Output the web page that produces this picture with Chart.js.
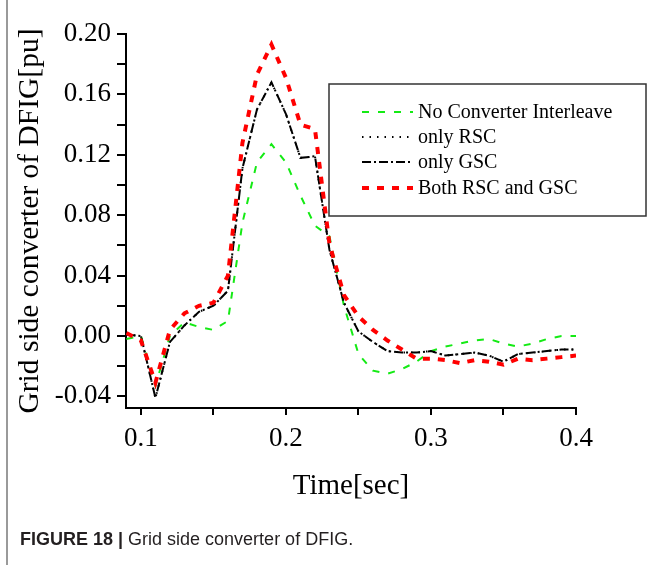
<!DOCTYPE html>
<html>
<head>
<meta charset="utf-8">
<title>Grid side converter of DFIG</title>
<script src="https://cdn.jsdelivr.net/npm/chart.js@4/dist/chart.umd.min.js"></script>
<style>
  html, body { margin: 0; padding: 0; background: #fff; }
  #wrap { position: relative; width: 650px; height: 565px; overflow: hidden; }
  #borda { position: absolute; left: 6px; top: 0; width: 1.5px; height: 565px; background: #9a9a9a; }
  #legenda-fig {
    position: absolute; left: 20px; top: 529px;
    font-family: "Liberation Sans", Arial, sans-serif; font-size: 18px; color: #231f20;
    white-space: nowrap;
  }
  #legenda-fig b { font-weight: bold; }
</style>
</head>
<body>
<div id="wrap">
  <canvas id="grafico" width="650" height="565"></canvas>
  <div id="borda"></div>
  <div id="legenda-fig"><b>FIGURE 18 |</b> Grid side converter of DFIG.</div>
</div>

<script>
// ---------------- DADOS ----------------
const tempos = [0.09, 0.10, 0.11, 0.12, 0.13, 0.14, 0.15, 0.16, 0.17, 0.18, 0.19, 0.20,
  0.21, 0.22, 0.23, 0.24, 0.25, 0.26, 0.27, 0.28, 0.29, 0.30,
  0.31, 0.32, 0.33, 0.34, 0.35, 0.36, 0.37, 0.38, 0.39, 0.40];

const semInterleave = [-0.002, 0.000, -0.033, 0.000, 0.009, 0.006, 0.004, 0.010, 0.075, 0.115, 0.127, 0.115,
  0.093, 0.073, 0.066, 0.020, -0.012, -0.023, -0.025, -0.022, -0.017, -0.010,
  -0.007, -0.005, -0.003, -0.002, -0.005, -0.007, -0.005, -0.002, 0.000, 0.000];

const soRSC = [0.001, 0.000, -0.041, -0.004, 0.007, 0.016, 0.020, 0.030, 0.111, 0.150, 0.168, 0.147,
  0.118, 0.119, 0.057, 0.022, 0.003, -0.004, -0.010, -0.011, -0.011, -0.010,
  -0.013, -0.012, -0.011, -0.013, -0.017, -0.012, -0.011, -0.010, -0.009, -0.009];

const soGSC = [0.001, 0.000, -0.041, -0.004, 0.007, 0.016, 0.020, 0.030, 0.111, 0.150, 0.168, 0.147,
  0.118, 0.119, 0.057, 0.022, 0.003, -0.004, -0.010, -0.011, -0.011, -0.010,
  -0.013, -0.012, -0.011, -0.013, -0.017, -0.012, -0.011, -0.010, -0.009, -0.009];

const ambos = [0.002, -0.003, -0.031, 0.004, 0.015, 0.020, 0.022, 0.040, 0.128, 0.173, 0.193, 0.171,
  0.140, 0.137, 0.061, 0.027, 0.013, 0.004, -0.003, -0.009, -0.015, -0.015,
  -0.016, -0.018, -0.016, -0.017, -0.019, -0.015, -0.016, -0.015, -0.014, -0.013];

const nomesSeries = ["No Converter Interleave", "only RSC", "only GSC", "Both RSC and GSC"];

const ticksX = [0.1, 0.15, 0.2, 0.25, 0.3, 0.35, 0.4];
const labelsX = [0.1, 0.2, 0.3, 0.4];
const ticksY = [-0.04, -0.02, 0.00, 0.02, 0.04, 0.06, 0.08, 0.10, 0.12, 0.14, 0.16, 0.18, 0.20];
const labelsY = [-0.04, 0.00, 0.04, 0.08, 0.12, 0.16, 0.20];

const pares = (vals) => tempos.map((t, i) => ({ x: t, y: vals[i] }));
const temLabel = (lista, v) => lista.some(l => Math.abs(l - v) < 1e-9);

const fonteSerif = "'Liberation Serif', 'Times New Roman', serif";

// ---------------- LEGENDA DENTRO DO GRAFICO ----------------
const legendaCaixa = {
  id: "legendaCaixa",
  afterDatasetsDraw(chart) {
    const c = chart.ctx;
    c.save();
    c.fillStyle = "#fff";
    c.fillRect(329, 84, 317, 132);
    c.strokeStyle = "#333";
    c.lineWidth = 1.5;
    c.strokeRect(329, 84, 317, 132);

    const linhasY = [112, 137, 162, 188];
    chart.data.datasets.forEach((ds, i) => {
      const y = linhasY[i];
      c.beginPath();
      c.setLineDash(ds.borderDash || []);
      c.lineWidth = ds.borderWidth;
      c.strokeStyle = ds.borderColor;
      c.moveTo(362, y);
      c.lineTo(413, y);
      c.stroke();
      c.setLineDash([]);
      c.fillStyle = "#000";
      c.font = "20px " + fonteSerif;
      c.textBaseline = "middle";
      c.textAlign = "left";
      c.fillText(ds.label, 418, y + 1);
    });
    c.restore();
  }
};

// ---------------- GRAFICO ----------------
const ctx = document.getElementById("grafico");

new Chart(ctx, {
  type: "line",
  data: {
    datasets: [
      {
        label: nomesSeries[0],
        data: pares(semInterleave),
        borderColor: "#14ea14",
        borderWidth: 2,
        borderDash: [7, 9],
        order: 3
      },
      {
        label: nomesSeries[1],
        data: pares(soRSC),
        borderColor: "#000",
        borderWidth: 2,
        borderDash: [1.5, 6],
        order: 2
      },
      {
        label: nomesSeries[2],
        data: pares(soGSC),
        borderColor: "#000",
        borderWidth: 2,
        borderDash: [9, 3, 2, 3],
        order: 1
      },
      {
        label: nomesSeries[3],
        data: pares(ambos),
        borderColor: "#ff0000",
        borderWidth: 4,
        borderDash: [7, 8],
        order: 0
      }
    ]
  },
  options: {
    responsive: false,
    devicePixelRatio: 1,
    animation: false,
    layout: { padding: { top: 34, right: 74, bottom: 0, left: 0 } },
    elements: {
      point: { radius: 0 },
      line: { tension: 0, fill: false, borderCapStyle: "butt" }
    },
    plugins: {
      legend: { display: false },
      tooltip: { enabled: false }
    },
    scales: {
      x: {
        type: "linear",
        min: 0.0897,
        max: 0.4,
        afterBuildTicks: (eixo) => { eixo.ticks = ticksX.map(v => ({ value: v })); },
        afterFit: (eixo) => { eixo.height = 157; },
        border: { display: true, color: "#000", width: 2 },
        grid: { drawOnChartArea: false, drawTicks: true, tickLength: 7, color: "#000", lineWidth: 2 },
        ticks: {
          padding: 8,
          color: "#000",
          maxRotation: 0,
          autoSkip: false,
          font: { family: fonteSerif, size: 27 },
          callback: (v) => temLabel(labelsX, v) ? v.toFixed(1) : ""
        },
        title: {
          display: true,
          text: "Time[sec]",
          color: "#000",
          font: { family: fonteSerif, size: 29 },
          padding: { top: 0, bottom: 61 }
        }
      },
      y: {
        type: "linear",
        min: -0.0477,
        max: 0.2,
        afterBuildTicks: (eixo) => { eixo.ticks = ticksY.map(v => ({ value: v })); },
        afterFit: (eixo) => { eixo.width = 126; },
        border: { display: true, color: "#000", width: 2 },
        grid: { drawOnChartArea: false, drawTicks: true, tickLength: 9, color: "#000", lineWidth: 2 },
        ticks: {
          padding: 6,
          color: "#000",
          autoSkip: false,
          font: { family: fonteSerif, size: 27 },
          callback: (v) => temLabel(labelsY, v) ? v.toFixed(2) : ""
        },
        title: {
          display: true,
          text: "Grid side converter of DFIG[pu]",
          color: "#000",
          font: { family: fonteSerif, size: 29.5 },
          padding: { top: 13, bottom: 0 }
        }
      }
    }
  },
  plugins: [legendaCaixa]
});
</script>
</body>
</html>
